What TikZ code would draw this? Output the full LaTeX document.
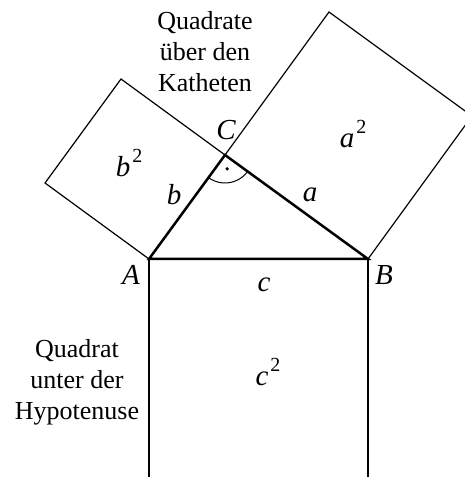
\documentclass[tikz,border=0pt]{standalone}
\usepackage{fontspec}
\setmainfont{Liberation Serif}
\usetikzlibrary{calc}
\tikzset{
  thinline/.style={line width=1.2pt, black},
  triline/.style={line width=2.5pt, black, line join=miter},
  lbl/.style={font=\fontsize{29}{29}\selectfont\itshape, inner sep=0pt, anchor=base},
  txt/.style={font=\fontsize{26}{31}\selectfont, align=center, inner sep=0pt}
}
\newcommand{\sqr}[1]{{\itshape #1}\kern2pt\raisebox{14pt}{\fontsize{20}{20}\selectfont\upshape 2}}
\begin{document}
\begin{tikzpicture}[x=1pt,y=1pt]
\useasboundingbox (0,0) rectangle (465,477);
\clip (0,0) rectangle (465,477);
% vertices
\coordinate (A) at (149,218);
\coordinate (B) at (368,218);
\coordinate (C) at (225,322);
% square on a
\coordinate (Ba) at (472,361);
\coordinate (Ca) at (329,465);
% square on b
\coordinate (Cb) at (121,398);
\coordinate (Ab) at (45,294);
% square on c
\coordinate (Bc) at (368,-1);
\coordinate (Ac) at (149,-1);
\draw[thinline] (C) -- (Ca) -- (Ba) -- (B);
\draw[thinline] (A) -- (Ab) -- (Cb) -- (C);
\draw[thinline] (A) -- (Ac) -- (Bc) -- (B);
\draw[triline] (A) -- (B) -- (C) -- cycle;
% right angle mark
\draw[line width=1pt] ($(C)+(233.84:28)$) arc[start angle=233.84, end angle=323.97, radius=28];
\fill ($(C)+(278.9:14)$) circle (1.8pt);
% labels
\node[lbl] (lA) at (131,192) {A};
\node[lbl] (lB) at (384,192) {B};
\node[lbl] (lC) at (226,337) {C};
\node[lbl] (la) at (310,275) {a};
\node[lbl] (lb) at (174,272) {b};
\node[lbl] (lc) at (264,185) {c};
\node[lbl] (la2) at (353,329) {\sqr{a}};
\node[lbl] (lb2) at (129,300) {\sqr{b}};
\node[lbl] (lc2) at (268,91) {\sqr{c}};
\node[txt] (top) at (205,425) {Quadrate\\über den\\Katheten};
\node[txt] (bot) at (77,95) {Quadrat\\unter der\\Hypotenuse};
\end{tikzpicture}
\end{document}
